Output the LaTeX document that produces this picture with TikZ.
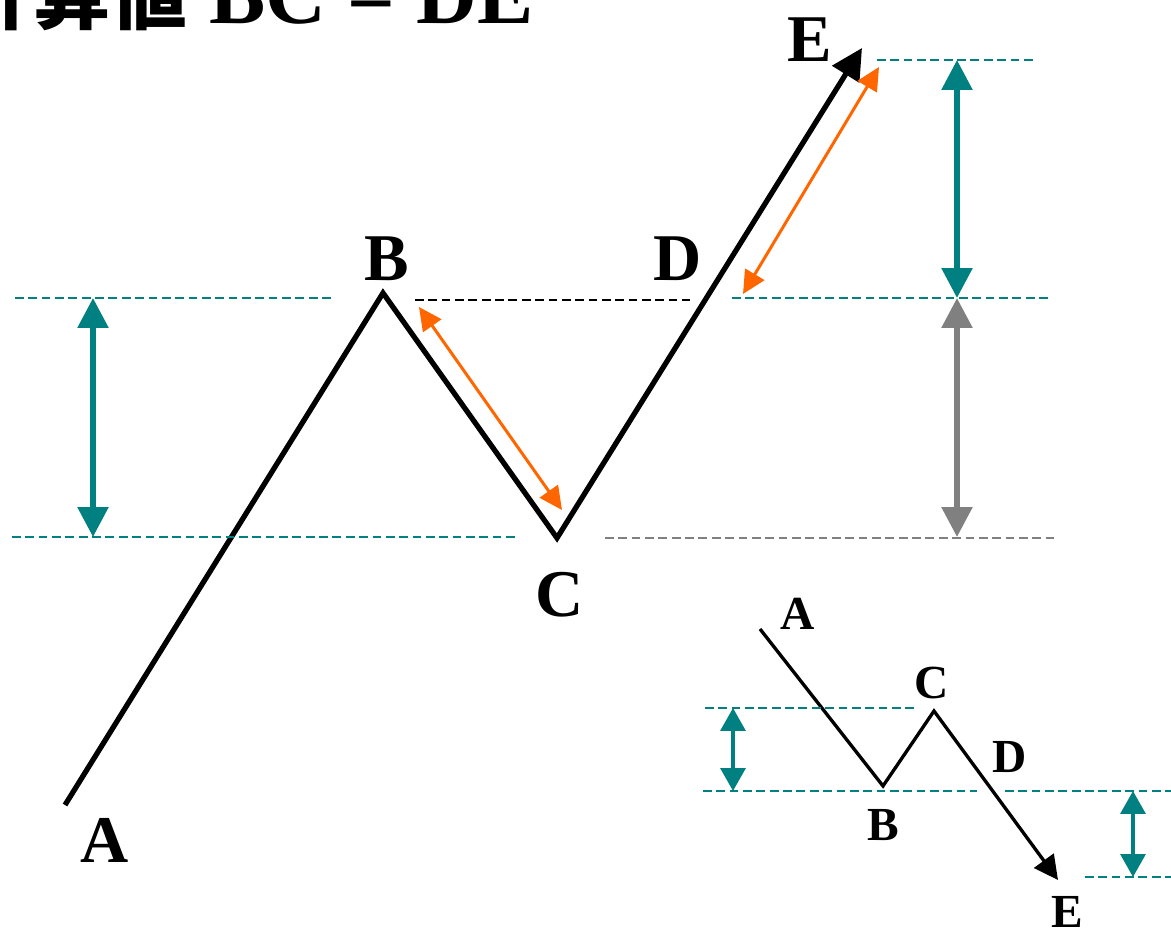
\documentclass[tikz,border=0pt]{standalone}
\usepackage{fontspec}
\setmainfont{Liberation Serif}
\newfontfamily\cjk{Noto Sans CJK JP}
\usetikzlibrary{arrows.meta}
\definecolor{wteal}{HTML}{008080}
\definecolor{worange}{HTML}{FF6600}
\definecolor{wgray}{HTML}{808080}
\tikzset{
  wave/.style={line width=3pt,line join=miter},
  smallwave/.style={line width=1.9pt,line join=miter},
  level/.style={wteal,line width=1.1pt,dash pattern=on 5pt off 2.6pt},
  span/.style={wteal,line width=3.2pt,
    {Triangle[length=0.6cm,width=0.6cm]}-{Triangle[length=0.6cm,width=0.6cm]}},
  smallspan/.style={wteal,line width=1.9pt,
    {Triangle[length=0.46cm,width=0.5cm]}-{Triangle[length=0.46cm,width=0.5cm]}},
  same/.style={worange,line width=1.7pt,
    {Triangle[length=0.46cm,width=0.44cm]}-{Triangle[length=0.46cm,width=0.44cm]}},
  lbl/.style={font=\bfseries\fontsize{38}{38}\selectfont,inner sep=0pt},
  slbl/.style={font=\bfseries\fontsize{27}{27}\selectfont,inner sep=0pt},
  headline/.style={font=\bfseries\fontsize{48}{48}\selectfont,inner sep=0pt}
}
\begin{document}
\begin{tikzpicture}[x=0.02cm,y=-0.02cm]
  \useasboundingbox (0,0) rectangle (1171,935);
  % Title, cut by the top edge
  \node[headline,anchor=base west] (title) at (-44,24)
    {{\cjk\bfseries\fontsize{44}{44}\selectfont 計算値} BC = DE};
  % Main wave
  \coordinate (A) at (65,805);
  \coordinate (B) at (383,293);
  \coordinate (C) at (557,538);
  \coordinate (D) at (706,298);
  \coordinate (E) at (862,48);
  \draw[wave,-{Triangle[length=0.62cm,width=0.62cm]}] (A) -- (B) -- (C) -- (E);
  \node[lbl] (lA) at (105,840) {A};
  \node[lbl] (lB) at (387,259) {B};
  \node[lbl] (lC) at (560,595) {C};
  \node[lbl] (lD) at (678,259) {D};
  \node[lbl] (lE) at (810,40) {E};
  % Levels
  \foreach \xa/\xb/\yy in {15/335/298, 12/515/537, 732/1050/298, 877/1035/60}
    \draw[level] (\xa,\yy) -- (\xb,\yy);
  \draw[level,black] (415,300) -- (690,300);
  \draw[level,wgray] (605,538) -- (1055,538);
  % Heights
  \coordinate (h1) at (93,298);
  \coordinate (h2) at (93,537);
  \coordinate (r1) at (957,60);
  \coordinate (r2) at (957,298);
  \coordinate (r3) at (957,537);
  \draw[span] (h1) -- (h2);
  \draw[span] (r1) -- (r2);
  \draw[span,wgray] (r2) -- (r3);
  % BC = DE
  \coordinate (o1) at (419,307);
  \coordinate (o2) at (562,510);
  \coordinate (o3) at (743,294);
  \coordinate (o4) at (879,67);
  \draw[same] (o1) -- (o2);
  \draw[same] (o3) -- (o4);
  % Small falling wave
  \coordinate (sA) at (760,629);
  \coordinate (sB) at (883,786);
  \coordinate (sC) at (934,711);
  \coordinate (sE) at (1058,880);
  \draw[smallwave,-{Triangle[length=0.48cm,width=0.48cm]}] (sA) -- (sB) -- (sC) -- (sE);
  \node[slbl] (slA) at (798,614) {A};
  \node[slbl] (slB) at (883,825) {B};
  \node[slbl] (slC) at (932,683) {C};
  \node[slbl] (slD) at (1010,757) {D};
  \node[slbl] (slE) at (1067,912) {E};
  \foreach \xa/\xb/\yy in {705/915/708, 703/977/791, 1005/1171/791, 1085/1171/877}
    \draw[level] (\xa,\yy) -- (\xb,\yy);
  \coordinate (s1) at (733,708);
  \coordinate (s2) at (733,791);
  \coordinate (s3) at (1133,791);
  \coordinate (s4) at (1133,877);
  \draw[smallspan] (s1) -- (s2);
  \draw[smallspan] (s3) -- (s4);
\end{tikzpicture}
\end{document}
